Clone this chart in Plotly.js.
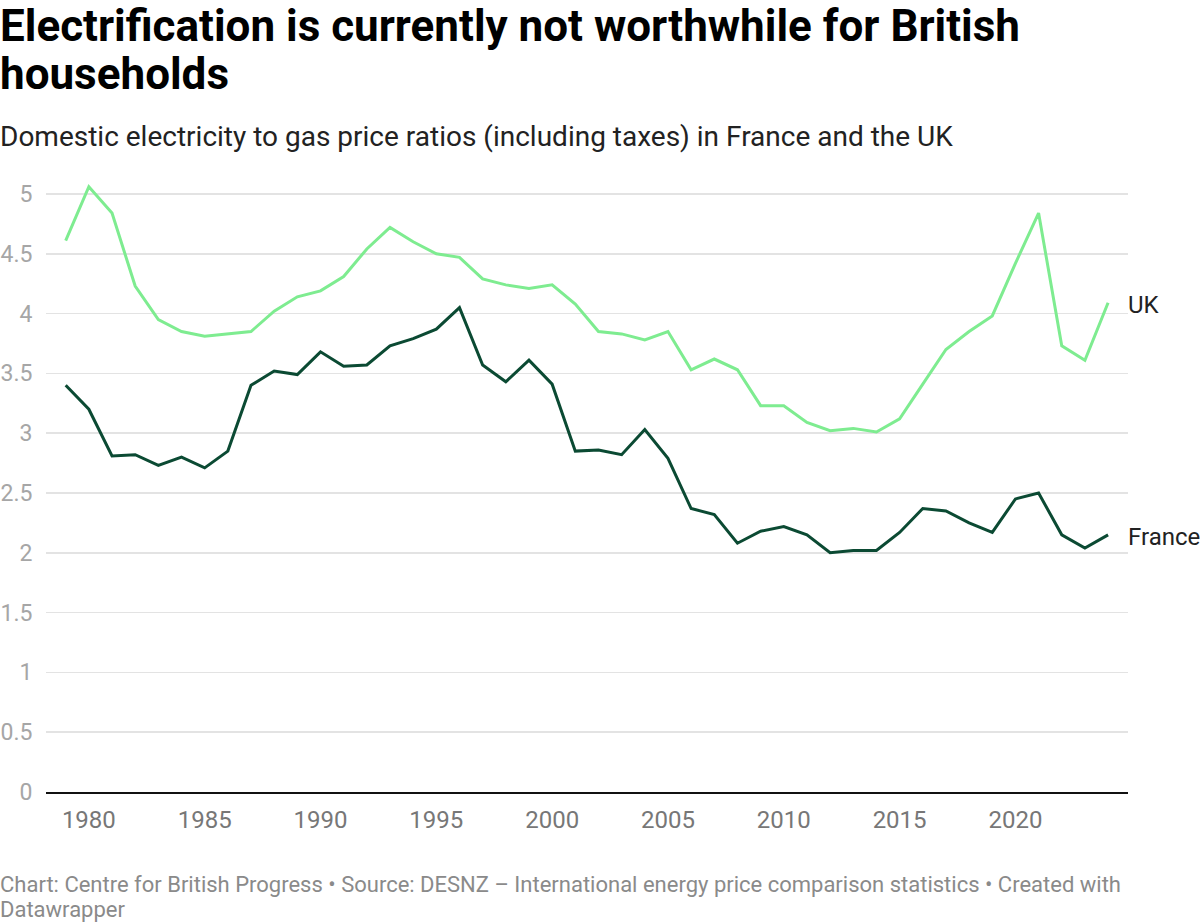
<!DOCTYPE html>
<html>
<head>
<meta charset="utf-8">
<script src="https://cdn.plot.ly/plotly-3.0.1.min.js"></script>
<style>
  html, body { margin: 0; padding: 0; background: #fff; }
  #chart { width: 1200px; height: 924px; }
</style>
</head>
<body>
<div id="chart"></div>
<script>
const years = [1979,1980,1981,1982,1983,1984,1985,1986,1987,1988,1989,1990,1991,1992,1993,1994,1995,1996,1997,1998,1999,2000,2001,2002,2003,2004,2005,2006,2007,2008,2009,2010,2011,2012,2013,2014,2015,2016,2017,2018,2019,2020,2021,2022,2023,2024];
const ukValues = [4.61,5.06,4.84,4.23,3.95,3.85,3.81,3.83,3.85,4.02,4.14,4.19,4.31,4.54,4.72,4.60,4.50,4.47,4.29,4.24,4.21,4.24,4.08,3.85,3.83,3.78,3.85,3.53,3.62,3.53,3.23,3.23,3.09,3.02,3.04,3.01,3.12,3.41,3.70,3.85,3.98,4.42,4.84,3.73,3.61,4.09];
const franceValues = [3.40,3.20,2.81,2.82,2.73,2.80,2.71,2.85,3.40,3.52,3.49,3.68,3.56,3.57,3.73,3.79,3.87,4.05,3.57,3.43,3.61,3.41,2.85,2.86,2.82,3.03,2.79,2.37,2.32,2.08,2.18,2.22,2.15,2.00,2.02,2.02,2.17,2.37,2.35,2.25,2.17,2.45,2.50,2.15,2.04,2.15];
const seriesNames = ["UK", "France"];
const xTickVals = [1980,1985,1990,1995,2000,2005,2010,2015,2020];
const yTickVals = [0,0.5,1,1.5,2,2.5,3,3.5,4,4.5,5];

const titleLine1 = "Electrification is currently not worthwhile for British";
const titleLine2 = "households";
const subtitle = "Domestic electricity to gas price ratios (including taxes) in France and the UK";
const footer1 = "Chart: Centre for British Progress • Source: DESNZ – International energy price comparison statistics • Created with";
const footer2 = "Datawrapper";

const FONT = "Roboto, 'Noto Sans', sans-serif";

const traces = [
  { x: years, y: ukValues, name: seriesNames[0], type: "scatter", mode: "lines",
    line: { color: "#7eec90", width: 3 }, hoverinfo: "x+y" },
  { x: years, y: franceValues, name: seriesNames[1], type: "scatter", mode: "lines",
    line: { color: "#0b4a33", width: 3 }, hoverinfo: "x+y" }
];

const layout = {
  width: 1200, height: 924,
  paper_bgcolor: "#fff", plot_bgcolor: "#fff",
  margin: { l: 46, r: 72, t: 182, b: 132 },
  showlegend: false,
  font: { family: FONT, color: "#222" },
  title: {
    text: "<b>" + titleLine1 + "</b>",
    font: { family: FONT, size: 44, color: "#000" },
    x: 0, xref: "container", xanchor: "left",
    y: 1 - 26 / 924, yref: "container", yanchor: "middle",
    pad: { t: 0, l: 0, r: 0, b: 0 }
  },
  xaxis: {
    range: [1978.15, 2024.86],
    tickvals: xTickVals,
    showgrid: false, zeroline: false,
    showline: true, linecolor: "#111", linewidth: 2,
    ticks: "outside", ticklen: 5, tickcolor: "rgba(0,0,0,0)",
    tickfont: { family: FONT, size: 24, color: "#777" },
    fixedrange: true
  },
  yaxis: {
    range: [0, 5.1],
    tickvals: yTickVals,
    showgrid: true, gridcolor: "#e3e3e3", gridwidth: 1.5,
    zeroline: false,
    ticks: "outside", ticklen: 8, tickcolor: "rgba(0,0,0,0)",
    tickfont: { family: FONT, size: 23, color: "#a6a6a6" },
    fixedrange: true
  },
  annotations: [
    { text: "<b>" + titleLine2 + "</b>", xref: "paper", yref: "paper", x: 0, y: 0,
      xanchor: "left", yanchor: "middle", showarrow: false,
      font: { family: FONT, size: 44, color: "#000" } },
    { text: subtitle, xref: "paper", yref: "paper", x: 0, y: 0,
      xanchor: "left", yanchor: "middle", showarrow: false,
      font: { family: FONT, size: 28, color: "#222" } },
    { text: footer1, xref: "paper", yref: "paper", x: 0, y: 0,
      xanchor: "left", yanchor: "middle", showarrow: false,
      font: { family: FONT, size: 22, color: "#8a8a8a" } },
    { text: footer2, xref: "paper", yref: "paper", x: 0, y: 0,
      xanchor: "left", yanchor: "middle", showarrow: false,
      font: { family: FONT, size: 22, color: "#8a8a8a" } },
    { text: seriesNames[0], xref: "paper", yref: "y", x: 1, y: ukValues[ukValues.length - 1],
      xanchor: "left", yanchor: "middle", showarrow: false, xshift: -2, yshift: -2,
      font: { family: FONT, size: 24, color: "#222" } },
    { text: seriesNames[1], xref: "paper", yref: "y", x: 1, y: franceValues[franceValues.length - 1],
      xanchor: "left", yanchor: "middle", showarrow: false, xshift: -2, yshift: -2,
      font: { family: FONT, size: 24, color: "#222" } }
  ]
};

// Place page-level text (title line 2, subtitle, footer) by pixel position
// converted into paper coordinates.
const plotH = layout.height - layout.margin.t - layout.margin.b;
const plotW = layout.width - layout.margin.l - layout.margin.r;
function py(pix) { return (layout.height - layout.margin.b - pix) / plotH; }
function px(pix) { return (pix - layout.margin.l) / plotW; }
const textPos = [[-2, 74], [-2, 136], [-2, 885], [-2, 909]];
textPos.forEach((p, i) => {
  layout.annotations[i].x = px(p[0]);
  layout.annotations[i].y = py(p[1]);
});

Plotly.newPlot("chart", traces, layout, { displayModeBar: false, staticPlot: true });
</script>
</body>
</html>
